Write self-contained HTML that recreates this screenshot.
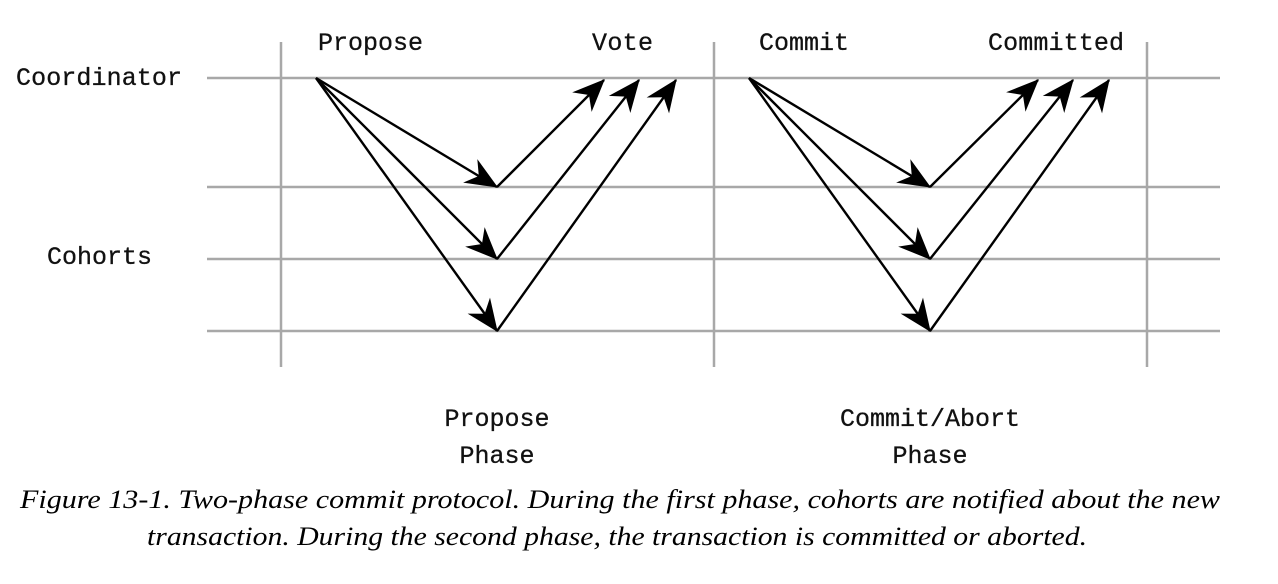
<!DOCTYPE html>
<html><head><meta charset="utf-8"><style>
html,body{margin:0;padding:0;background:#fff;}
svg{display:block;}
.m{font-family:"Liberation Mono",monospace;font-size:25px;fill:#111;stroke:#111;stroke-width:0.3;}
.c{font-family:"Liberation Serif",serif;font-style:italic;font-size:26px;fill:#000;}
</style></head><body>
<svg width="1278" height="584" viewBox="0 0 1278 584" xmlns="http://www.w3.org/2000/svg">
<defs>
<marker id="a" markerUnits="userSpaceOnUse" markerWidth="40" markerHeight="40" refX="0" refY="0" viewBox="-30 -15 32 30" orient="auto">
<path d="M1,0 L-25,-11 L-17,0 L-25,11 Z" fill="#000"/>
</marker>
</defs>
<g stroke="#a8a8a8" stroke-width="2.5">
<line x1="207" y1="78" x2="1220" y2="78"/>
<line x1="207" y1="187" x2="1220" y2="187"/>
<line x1="207" y1="259" x2="1220" y2="259"/>
<line x1="207" y1="331" x2="1220" y2="331"/>
<line x1="281" y1="42" x2="281" y2="367"/>
<line x1="714" y1="42" x2="714" y2="367"/>
<line x1="1147" y1="42" x2="1147" y2="367"/>
</g>
<g stroke="#000" stroke-width="2.4" fill="none" marker-end="url(#a)">
<line x1="316" y1="78" x2="497" y2="187"/>
<line x1="316" y1="78" x2="497" y2="259"/>
<line x1="316" y1="78" x2="497" y2="331"/>
<line x1="497" y1="187" x2="604" y2="80"/>
<line x1="497" y1="259" x2="639" y2="80"/>
<line x1="497" y1="331" x2="676" y2="80"/>
<line x1="749" y1="78" x2="930" y2="187"/>
<line x1="749" y1="78" x2="930" y2="259"/>
<line x1="749" y1="78" x2="930" y2="331"/>
<line x1="930" y1="187" x2="1038" y2="80"/>
<line x1="930" y1="259" x2="1073" y2="80"/>
<line x1="930" y1="331" x2="1109" y2="80"/>
</g>
<text class="m" x="318" y="50" textLength="105">Propose</text>
<text class="m" x="592" y="50" textLength="61">Vote</text>
<text class="m" x="759" y="50" textLength="90">Commit</text>
<text class="m" x="988" y="50" textLength="136">Committed</text>
<text class="m" x="16" y="85" textLength="166">Coordinator</text>
<text class="m" x="47" y="264" textLength="105">Cohorts</text>
<text class="m" x="497" y="426" text-anchor="middle">Propose</text>
<text class="m" x="497" y="463" text-anchor="middle">Phase</text>
<text class="m" x="930" y="426" text-anchor="middle">Commit/Abort</text>
<text class="m" x="930" y="463" text-anchor="middle">Phase</text>
<text class="c" x="20" y="508" textLength="1200" lengthAdjust="spacingAndGlyphs">Figure 13-1. Two-phase commit protocol. During the first phase, cohorts are notified about the new</text>
<text class="c" x="147" y="545" textLength="940" lengthAdjust="spacingAndGlyphs">transaction. During the second phase, the transaction is committed or aborted.</text>
</svg>
</body></html>
